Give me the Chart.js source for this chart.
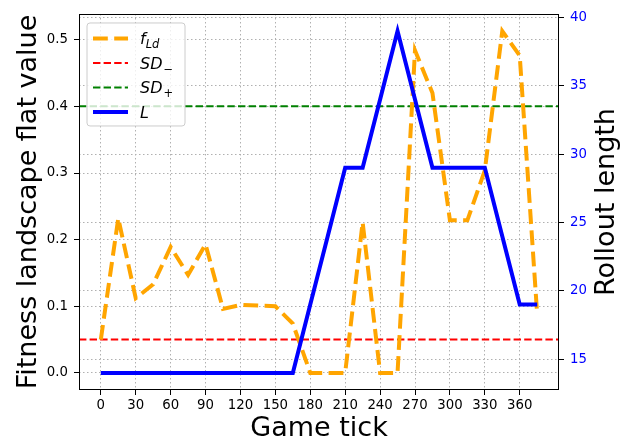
<!DOCTYPE html>
<html>
<head>
<meta charset="utf-8">
<script src="https://cdn.jsdelivr.net/npm/chart.js@4.4.1/dist/chart.umd.min.js"></script>
<style>
	html, body { margin: 0; padding: 0; background: #fff; }
	#wrap { width: 627px; height: 445px; }
</style>
</head>
<body>
<div id="wrap"><canvas id="myChart" width="627" height="445"></canvas></div>
<script>
const gameTicks = [0, 15, 30, 45, 60, 75, 90, 105, 120, 135, 150, 165, 180,
	195, 210, 225, 240, 255, 270, 285, 300, 315, 330, 345, 360, 375];
const flatValue = [0.05, 0.232, 0.112, 0.133, 0.189, 0.147, 0.193, 0.096, 0.102, 0.101, 0.100, 0.074, 0.0,
	0.0, 0.0, 0.226, 0.0, 0.0, 0.484, 0.42, 0.229, 0.229, 0.304, 0.513, 0.476, 0.088];
const rolloutLength = [14, 14, 14, 14, 14, 14, 14, 14, 14, 14, 14, 14, 19,
	24, 29, 29, 34, 39, 34, 29, 29, 29, 29, 24, 19, 19];
const sdMinus = 0.05;
const sdPlus = 0.4;

const xTicks = [0, 30, 60, 90, 120, 150, 180, 210, 240, 270, 300, 330, 360];
const leftTicks = [0, 0.1, 0.2, 0.3, 0.4, 0.5];
const rightTicks = [15, 20, 25, 30, 35, 40];

// axis limits with matplotlib's 5% margins
const xRange = [-18.75, 393.75];
const leftRange = [-0.02565, 0.53865];
const rightRange = [12.75, 40.25];

const FONT = "'DejaVu Sans', sans-serif";
const gridColor = "#b0b0b0";

function pts(xs, ys) {
	return xs.map((x, i) => ({ x: x, y: ys[i] }));
}

// frame around the plot, right axis label (reads upwards) and legend with subscripts
const frameAndLegend = {
	id: "frameAndLegend",
	afterDatasetsDraw(chart) {
		const ctx = chart.ctx;
		const a = chart.chartArea;
		ctx.save();
		ctx.strokeStyle = "#000";
		ctx.lineWidth = 1;
		ctx.strokeRect(Math.round(a.left) + 0.5, Math.round(a.top) + 0.5,
			Math.round(a.right - a.left) - 1, Math.round(a.bottom - a.top) - 1);

		// right axis title
		ctx.save();
		ctx.translate(chart.width - 20, (a.top + a.bottom) / 2);
		ctx.rotate(-Math.PI / 2);
		ctx.font = "27px " + FONT;
		ctx.fillStyle = "#000";
		ctx.textAlign = "center";
		ctx.textBaseline = "middle";
		ctx.fillText("Rollout length", 0, 0);
		ctx.restore();

		// legend box
		const bx = a.left + 8, by = a.top + 9, bw = 98, bh = 103, r = 3;
		ctx.beginPath();
		ctx.moveTo(bx + r, by);
		ctx.arcTo(bx + bw, by, bx + bw, by + bh, r);
		ctx.arcTo(bx + bw, by + bh, bx, by + bh, r);
		ctx.arcTo(bx, by + bh, bx, by, r);
		ctx.arcTo(bx, by, bx + bw, by, r);
		ctx.closePath();
		ctx.fillStyle = "rgba(255,255,255,0.8)";
		ctx.fill();
		ctx.strokeStyle = "#cccccc";
		ctx.stroke();

		chart.data.datasets.forEach((ds, row) => {
			const y = by + 15.5 + row * 24.5;
			ctx.beginPath();
			ctx.setLineDash(ds.borderDash || []);
			ctx.lineWidth = ds.borderWidth;
			ctx.strokeStyle = ds.borderColor;
			ctx.moveTo(bx + 6, y);
			ctx.lineTo(bx + 41, y);
			ctx.stroke();
			ctx.setLineDash([]);

			const parts = ds.label.split("_");
			ctx.fillStyle = "#000";
			ctx.textBaseline = "alphabetic";
			ctx.textAlign = "left";
			ctx.font = "italic 16px " + FONT;
			const tx = bx + 53;
			const base = y + 6;
			ctx.fillText(parts[0], tx, base);
			if (parts[1]) {
				const w = ctx.measureText(parts[0]).width;
				const sub = parts[1];
				const upright = sub === "−" || sub === "+";
				ctx.font = (upright ? "" : "italic ") + "11.5px " + FONT;
				ctx.fillText(sub, tx + w + (upright ? 1 : 0), base + 4);
			}
		});
		ctx.restore();
	}
};

const ctx = document.getElementById("myChart").getContext("2d");
new Chart(ctx, {
	type: "line",
	data: {
		datasets: [
			{
				label: "f_Ld",
				data: pts(gameTicks, flatValue),
				yAxisID: "y",
				borderColor: "orange",
				borderWidth: 4,
				borderDash: [14.8, 6.4],
				pointRadius: 0,
				fill: false,
				order: 1,
			},
			{
				label: "SD_−",
				data: pts(xRange, [sdMinus, sdMinus]),
				yAxisID: "y",
				borderColor: "red",
				borderWidth: 2,
				borderDash: [7.4, 3.2],
				pointRadius: 0,
				order: 2,
			},
			{
				label: "SD_+",
				data: pts(xRange, [sdPlus, sdPlus]),
				yAxisID: "y",
				borderColor: "green",
				borderWidth: 2,
				borderDash: [7.4, 3.2],
				pointRadius: 0,
				order: 2,
			},
			{
				label: "L",
				data: pts(gameTicks, rolloutLength),
				yAxisID: "y1",
				borderColor: "blue",
				borderWidth: 4,
				pointRadius: 0,
				order: 0,
			},
		],
	},
	options: {
		responsive: false,
		animation: false,
		layout: { padding: { top: 8, left: 0, right: 0, bottom: 0 } },
		plugins: {
			legend: { display: false },
			tooltip: { enabled: false },
		},
		elements: { line: { tension: 0 } },
		scales: {
			x: {
				type: "linear",
				min: xRange[0],
				max: xRange[1],
				afterBuildTicks: (s) => { s.ticks = xTicks.map((v) => ({ value: v })); },
				afterFit: (s) => { s.height = 55; },
				border: { display: false, dash: [1.5, 2.5] },
				grid: { color: gridColor, lineWidth: 1, tickColor: "#000", tickLength: 5, tickWidth: 1 },
				ticks: {
					color: "#000",
					padding: 3,
					maxRotation: 0,
					autoSkip: false,
					font: { family: FONT, size: 13.3 },
					callback: (v) => String(v),
				},
				title: {
					display: true,
					text: "Game tick",
					color: "#000",
					font: { family: FONT, size: 27 },
					padding: { top: 0, bottom: 0 },
				},
			},
			y: {
				position: "left",
				min: leftRange[0],
				max: leftRange[1],
				afterBuildTicks: (s) => { s.ticks = leftTicks.map((v) => ({ value: v })); },
				afterFit: (s) => { s.width = 79; },
				border: { display: false, dash: [1.5, 2.5] },
				grid: { color: gridColor, lineWidth: 1, tickColor: "#000", tickLength: 5, tickWidth: 1 },
				ticks: {
					color: "#000",
					padding: 6,
					font: { family: FONT, size: 13.3 },
					callback: (v) => v.toFixed(1),
				},
				title: {
					display: true,
					text: "Fitness landscape flat value",
					color: "#000",
					font: { family: FONT, size: 27 },
					padding: { top: 13, bottom: 0 },
				},
			},
			y1: {
				position: "right",
				min: rightRange[0],
				max: rightRange[1],
				afterBuildTicks: (s) => { s.ticks = rightTicks.map((v) => ({ value: v })); },
				afterFit: (s) => { s.width = 68; },
				border: { display: false, dash: [1.5, 2.5] },
				grid: { color: gridColor, lineWidth: 1, tickColor: "#000", tickLength: 5, tickWidth: 1 },
				ticks: {
					color: "blue",
					padding: 6,
					font: { family: FONT, size: 13.3 },
					callback: (v) => String(v),
				},
				title: { display: false },
			},
		},
	},
	plugins: [frameAndLegend],
});
</script>
</body>
</html>
